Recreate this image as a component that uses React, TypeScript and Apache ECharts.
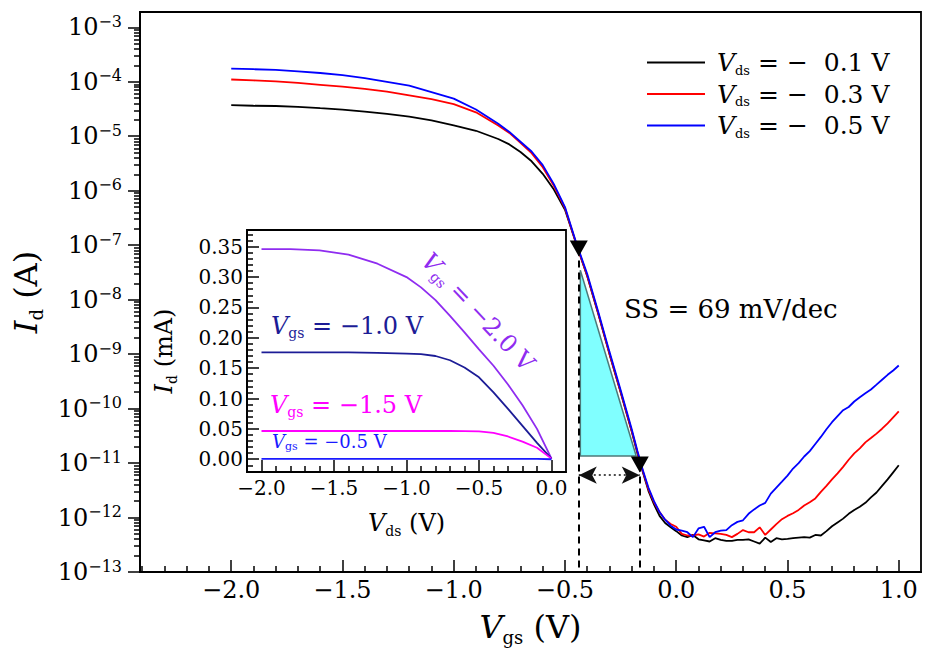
import React, { useEffect, useRef } from "react";
import * as echarts from "echarts";

const SERIF = "DejaVu Serif, Liberation Serif, serif";
const MINUS = "\u2212";

// ---------- main panel: Id-Vgs transfer curves ----------
const vgs = [
  -2.0, -1.9, -1.8, -1.7, -1.6, -1.5, -1.4, -1.3, -1.2, -1.1, -1.0, -0.9, -0.8,
  -0.75, -0.7, -0.65, -0.6, -0.55, -0.5, -0.45, -0.4, -0.35, -0.3, -0.25, -0.2,
  -0.175, -0.15, -0.125, -0.1, -0.075, -0.05, -0.025, 0.0,
  0.025, 0.05, 0.075, 0.1, 0.125, 0.15, 0.175, 0.2, 0.225, 0.25,
  0.275, 0.3, 0.325, 0.35, 0.375, 0.4, 0.425, 0.45, 0.475, 0.5,
  0.525, 0.55, 0.575, 0.6, 0.625, 0.65, 0.675, 0.7, 0.725, 0.75,
  0.775, 0.8, 0.825, 0.85, 0.875, 0.9, 0.925, 0.95, 0.975, 1.0,
];

const idVds01 = [
  3.72e-5, 3.63e-5, 3.59e-5, 3.47e-5, 3.27e-5, 3.09e-5, 2.82e-5, 2.57e-5, 2.29e-5, 1.95e-5, 1.58e-5, 1.26e-5, 8.91e-6,
  7.08e-6, 5.13e-6, 3.47e-6, 2.04e-6, 1.05e-6, 4.47e-7, 1.07e-7, 2.69e-8, 5.37e-9, 1.0e-9, 2.0e-10, 3.8e-11,
  1.55e-11, 6.76e-12, 3.09e-12, 1.74e-12, 1.07e-12, 7.94e-13, 6.61e-13, 5.62e-13,
  4.68e-13, 4.37e-13, 4.79e-13, 3.98e-13, 3.8e-13, 3.63e-13, 4.17e-13, 3.89e-13, 3.72e-13, 3.72e-13,
  3.89e-13, 3.89e-13, 3.98e-13, 3.63e-13, 3.31e-13, 4.27e-13, 3.55e-13, 4.17e-13, 3.98e-13, 4.07e-13,
  4.17e-13, 4.27e-13, 4.37e-13, 4.27e-13, 4.79e-13, 4.68e-13, 5.62e-13, 6.92e-13, 8.13e-13, 9.55e-13,
  1.17e-12, 1.38e-12, 1.58e-12, 1.86e-12, 2.34e-12, 2.88e-12, 3.8e-12, 5.01e-12, 6.76e-12, 9.12e-12,
];

const idVds03 = [
  1.1e-4, 1.06e-4, 1.02e-4, 9.55e-5, 8.81e-5, 8.13e-5, 7.41e-5, 6.61e-5, 5.62e-5, 4.79e-5, 3.89e-5, 2.75e-5, 1.58e-5,
  1.15e-5, 7.59e-6, 4.9e-6, 2.69e-6, 1.23e-6, 4.79e-7, 1.07e-7, 2.75e-8, 5.5e-9, 1.02e-9, 2.04e-10, 3.89e-11,
  1.62e-11, 7.08e-12, 3.31e-12, 1.91e-12, 1.26e-12, 9.12e-13, 7.59e-13, 6.76e-13,
  5.01e-13, 4.68e-13, 4.68e-13, 4.9e-13, 4.47e-13, 5.25e-13, 5.13e-13, 5.01e-13, 4.79e-13, 4.37e-13,
  5.01e-13, 5.89e-13, 5.37e-13, 5.37e-13, 6.61e-13, 4.79e-13, 6.03e-13, 7.59e-13, 9.33e-13, 1.07e-12,
  1.2e-12, 1.38e-12, 1.66e-12, 1.91e-12, 2.24e-12, 2.95e-12, 3.8e-12, 5.01e-12, 6.46e-12, 8.51e-12,
  1.15e-11, 1.51e-11, 1.86e-11, 2.4e-11, 2.88e-11, 3.47e-11, 4.27e-11, 5.37e-11, 6.92e-11, 8.91e-11,
];

const idVds05 = [
  1.74e-4, 1.7e-4, 1.66e-4, 1.55e-4, 1.45e-4, 1.32e-4, 1.17e-4, 1.0e-4, 8.51e-5, 6.46e-5, 4.9e-5, 3.09e-5, 1.7e-5,
  1.2e-5, 7.94e-6, 5.25e-6, 2.95e-6, 1.32e-6, 5.01e-7, 1.12e-7, 2.95e-8, 5.89e-9, 1.1e-9, 2.19e-10, 4.17e-11,
  1.7e-11, 7.41e-12, 3.55e-12, 2.0e-12, 1.26e-12, 9.12e-13, 7.08e-13, 6.03e-13,
  5.75e-13, 5.37e-13, 4.37e-13, 6.31e-13, 6.76e-13, 4.37e-13, 5.37e-13, 5.75e-13, 5.89e-13, 7.24e-13,
  8.32e-13, 8.91e-13, 1.17e-12, 1.41e-12, 1.66e-12, 1.86e-12, 2.75e-12, 3.55e-12, 4.57e-12, 5.89e-12,
  7.94e-12, 1.0e-11, 1.32e-11, 1.66e-11, 2.24e-11, 3.02e-11, 4.17e-11, 5.62e-11, 7.24e-11, 9.33e-11,
  1.07e-10, 1.35e-10, 1.62e-10, 1.91e-10, 2.24e-10, 2.75e-10, 3.39e-10, 4.17e-10, 5.01e-10, 6.17e-10,
];

const seriesNames = ["Vds = -0.1 V", "Vds = -0.3 V", "Vds = -0.5 V"];
const legendVds = ["0.1", "0.3", "0.5"];
const mainColors = ["#000000", "#ff0000", "#0000ff"];
const mainData = [idVds01, idVds03, idVds05];

// subthreshold-swing annotation
const markerVgs = [-0.438, -0.164];
const markerId = [8.7e-8, 9.4e-12];
const ssTriangleVgs = [-0.431, -0.431, -0.18];
const ssTriangleId = [3.47e-8, 1.35e-11, 1.35e-11];
const arrowVgs = [-0.438, -0.164];
const arrowId = 6.0e-12;
const ssLabel = "SS = 69 mV/dec";

// main tick values
const mainXTicks = [-2.0, -1.5, -1.0, -0.5, 0.0, 0.5, 1.0];
const mainYTicks = [1e-13, 1e-12, 1e-11, 1e-10, 1e-9, 1e-8, 1e-7, 1e-6, 1e-5, 1e-4, 1e-3];

// ---------- inset: Id-Vds output curves ----------
const vds = [-2.0, -1.8, -1.6, -1.4, -1.2, -1.0, -0.9, -0.8, -0.7, -0.6, -0.5, -0.4, -0.3, -0.2, -0.1, 0.0];
const idVgsM20 = [0.346, 0.346, 0.344, 0.337, 0.322, 0.3, 0.283, 0.262, 0.236, 0.209, 0.181, 0.154, 0.123, 0.089, 0.05, 0.001];
const idVgsM10 = [0.176, 0.176, 0.176, 0.176, 0.175, 0.174, 0.173, 0.17, 0.163, 0.151, 0.135, 0.11, 0.083, 0.055, 0.027, 0.001];
const idVgsM15 = [0.0465, 0.0465, 0.0465, 0.0465, 0.0465, 0.0465, 0.0465, 0.0465, 0.0465, 0.0463, 0.046, 0.0435, 0.0375, 0.029, 0.019, 0.001];
const idVgsM05 = [0.0007, 0.0007, 0.0007, 0.0007, 0.0007, 0.0007, 0.0007, 0.0007, 0.0007, 0.0007, 0.0007, 0.0007, 0.0007, 0.0007, 0.0006, 0.0];
const insetColors = { m20: "#8f2cf0", m10: "#1c1c96", m15: "#ff00ff", m05: "#1a1aff" };
const insetXTicks = [-2.0, -1.5, -1.0, -0.5, 0.0];
const insetYTicks = [0.0, 0.05, 0.1, 0.15, 0.2, 0.25, 0.3, 0.35];

const fmtNum = (v: number, d: number) => (v < -1e-9 ? MINUS : "") + Math.abs(v).toFixed(d);

const mainXMinor: number[] = [];
for (let k = -24; k <= 10; k++) if (k % 5 !== 0) mainXMinor.push(k / 10);
const mainYMinor: number[] = [];
for (let e = -13; e <= -4; e++) for (let m = 2; m <= 9; m++) mainYMinor.push(m * Math.pow(10, e));
const insetXMinor: number[] = [];
for (let k = -20; k <= 0; k++) if (k % 5 !== 0) insetXMinor.push(k / 10);
const insetYMinor: number[] = [];
for (let k = -1; k <= 37; k++) if (k % 5 !== 0) insetYMinor.push(k / 100);

// rich-text style for ECharts components (uses "color")
const rs = (size: number, extra: any = {}) => ({ fontFamily: SERIF, fontSize: size, color: "#000", ...extra });
// rich-text style for graphic elements (uses "fill")
const gs = (size: number, fill: string, extra: any = {}) => ({ fontFamily: SERIF, fontSize: size, fill, ...extra });

export default function App() {
  const ref = useRef<HTMLDivElement>(null);
  useEffect(() => {
    const chart = echarts.init(ref.current!, null, { renderer: "svg" });
    const black = "#000";
    const tickLine = { color: black, width: 1.5 };
    const axisLine = { show: true, onZero: false, lineStyle: { color: black, width: 1.8 } };

    const titleRich = (size: number, sub: number) => ({
      v: rs(size, { fontStyle: "italic", lineHeight: size + 6 }),
      s: rs(sub, { lineHeight: sub + 1, verticalAlign: "bottom" }),
      t: rs(size, { lineHeight: size + 6 }),
    });
    const legendRich = {
      p: { width: 7 },
      v: rs(25, { fontStyle: "italic", lineHeight: 28 }),
      s: rs(13, { lineHeight: 14, verticalAlign: "bottom" }),
      t: rs(25, { lineHeight: 28 }),
    };
    const labRich = (size: number, sub: number, color: string) => ({
      v: gs(size, color, { fontStyle: "italic", lineHeight: size + 4 }),
      s: gs(sub, color, { lineHeight: sub + 1, verticalAlign: "bottom" }),
      t: gs(size, color, { lineHeight: size + 4 }),
    });

    const option: any = {
      animation: false,
      backgroundColor: "#fff",
      textStyle: { fontFamily: SERIF },
      grid: [
        { left: 140, top: 12, width: 781, height: 560, show: true, borderColor: black, borderWidth: 1.8, backgroundColor: "transparent" },
        { left: 247, top: 230, width: 319, height: 242, show: true, borderColor: black, borderWidth: 1.8, backgroundColor: "#fff" },
      ],
      legend: {
        orient: "vertical",
        left: 642,
        top: 45,
        itemWidth: 58,
        itemHeight: 2,
        itemGap: 5,
        icon: "rect",
        selectedMode: false,
        data: seriesNames,
        formatter: (name: string) => {
          const i = seriesNames.indexOf(name);
          return `{p| }{v|V}{s|ds}{t| = ${MINUS}  ${legendVds[i]} V}`;
        },
        textStyle: { fontFamily: SERIF, fontSize: 25, rich: legendRich },
      },
      xAxis: [
        {
          gridIndex: 0, type: "value", position: "bottom", min: -2.41, max: 1.1,
          axisLine,
          axisTick: { show: true, inside: true, length: 12, lineStyle: tickLine, customValues: mainXTicks },
          axisLabel: { customValues: mainXTicks, formatter: (v: number) => fmtNum(v, 1), fontSize: 24, fontFamily: SERIF, color: black, margin: 6 },
          splitLine: { show: false },
          name: "{v|V}{s|gs}{t| (V)}", nameLocation: "middle", nameGap: 36,
          nameTextStyle: { rich: titleRich(32, 18) },
        },
        {
          gridIndex: 0, type: "value", position: "bottom", min: -2.41, max: 1.1,
          axisLine: { show: false, onZero: false },
          axisTick: { show: true, inside: true, length: 6, lineStyle: tickLine, customValues: mainXMinor },
          axisLabel: { show: false },
          splitLine: { show: false },
        },
        {
          gridIndex: 1, type: "value", position: "bottom", min: -2.1, max: 0.1,
          axisLine,
          axisTick: { show: true, inside: true, length: 12, lineStyle: tickLine, customValues: insetXTicks },
          axisLabel: { customValues: insetXTicks, formatter: (v: number) => fmtNum(v, 1), fontSize: 20, fontFamily: SERIF, color: black, margin: 6 },
          splitLine: { show: false },
          name: "{v|V}{s|ds}{t| (V)}", nameLocation: "middle", nameGap: 36,
          nameTextStyle: { rich: titleRich(24, 14) },
        },
        {
          gridIndex: 1, type: "value", position: "bottom", min: -2.1, max: 0.1,
          axisLine: { show: false, onZero: false },
          axisTick: { show: true, inside: true, length: 6, lineStyle: tickLine, customValues: insetXMinor },
          axisLabel: { show: false },
          splitLine: { show: false },
        },
      ],
      yAxis: [
        {
          gridIndex: 0, type: "log", logBase: 10, position: "left", min: 1e-13, max: 1.91e-3,
          axisLine,
          axisTick: { show: true, inside: false, length: 12, lineStyle: tickLine, customValues: mainYTicks },
          axisLabel: {
            customValues: mainYTicks, margin: 18,
            formatter: (v: number) => `{b|10}{e|${MINUS}${Math.abs(Math.round(Math.log10(v)))}}`,
            rich: { b: rs(24, { lineHeight: 28 }), e: rs(16, { lineHeight: 12, verticalAlign: "top" }) },
          },
          splitLine: { show: false },
          name: "{v|I}{s|d}{t| (A)}", nameLocation: "middle", nameGap: 95, nameRotate: 90,
          nameTextStyle: { rich: titleRich(32, 18) },
        },
        {
          gridIndex: 0, type: "log", logBase: 10, position: "left", min: 1e-13, max: 1.91e-3,
          axisLine: { show: false, onZero: false },
          axisTick: { show: true, inside: false, length: 6, lineStyle: tickLine, customValues: mainYMinor },
          axisLabel: { show: false },
          splitLine: { show: false },
        },
        {
          gridIndex: 1, type: "value", position: "left", min: -0.021, max: 0.3775,
          axisLine,
          axisTick: { show: true, inside: true, length: 12, lineStyle: tickLine, customValues: insetYTicks },
          axisLabel: { customValues: insetYTicks, formatter: (v: number) => fmtNum(v, 2), fontSize: 20, fontFamily: SERIF, color: black, margin: 4 },
          splitLine: { show: false },
          name: "{v|I}{s|d}{t| (mA)}", nameLocation: "middle", nameGap: 68, nameRotate: 90,
          nameTextStyle: { rich: titleRich(24, 14) },
        },
        {
          gridIndex: 1, type: "value", position: "left", min: -0.021, max: 0.3775,
          axisLine: { show: false, onZero: false },
          axisTick: { show: true, inside: true, length: 6, lineStyle: tickLine, customValues: insetYMinor },
          axisLabel: { show: false },
          splitLine: { show: false },
        },
      ],
      series: [
        {
          type: "custom", name: "ssTriangle", xAxisIndex: 0, yAxisIndex: 0, silent: true, z: 1,
          data: [[ssTriangleVgs[0], ssTriangleId[0]]],
          renderItem: (_p: any, api: any) => ({
            type: "polygon",
            shape: { points: ssTriangleVgs.map((x, i) => api.coord([x, ssTriangleId[i]])) },
            style: { fill: "#80ffff", stroke: "#4d7a7a", lineWidth: 1.5 },
          }),
        },
        ...mainData.map((arr, k) => ({
          type: "line", name: seriesNames[k], xAxisIndex: 0, yAxisIndex: 0, z: 3 + k,
          data: vgs.map((x, i) => [x, arr[i]]),
          showSymbol: false, symbol: "none", silent: true,
          lineStyle: { color: mainColors[k], width: 1.8 },
          itemStyle: { color: mainColors[k] },
        })),
        {
          type: "scatter", name: "markers", xAxisIndex: 0, yAxisIndex: 0, z: 8, silent: true,
          data: markerVgs.map((x, i) => [x, markerId[i]]),
          symbol: "triangle", symbolRotate: 180, symbolSize: [18, 16],
          itemStyle: { color: black, opacity: 1 },
          markLine: {
            silent: true, symbol: "none", label: { show: false },
            lineStyle: { color: black, width: 2, type: [7, 5], opacity: 1 },
            data: markerVgs.map((x, i) => [{ coord: [x, markerId[i]] }, { coord: [x, 1e-13] }]),
          },
        },
        {
          type: "line", name: "arrow", xAxisIndex: 0, yAxisIndex: 0, z: 8, silent: true, data: [],
          markLine: {
            silent: true, symbol: ["arrow", "arrow"], symbolSize: [13, 18], label: { show: false },
            lineStyle: { color: "#111", width: 1.5, type: [2, 3], opacity: 1 },
            data: [[{ coord: [arrowVgs[0], arrowId] }, { coord: [arrowVgs[1], arrowId] }]],
          },
        },
        { type: "line", name: "Vgs -2.0", xAxisIndex: 2, yAxisIndex: 2, z: 3, showSymbol: false, symbol: "none", silent: true,
          data: vds.map((x, i) => [x, idVgsM20[i]]), lineStyle: { color: insetColors.m20, width: 1.8 } },
        { type: "line", name: "Vgs -1.0", xAxisIndex: 2, yAxisIndex: 2, z: 3, showSymbol: false, symbol: "none", silent: true,
          data: vds.map((x, i) => [x, idVgsM10[i]]), lineStyle: { color: insetColors.m10, width: 1.8 } },
        { type: "line", name: "Vgs -1.5", xAxisIndex: 2, yAxisIndex: 2, z: 3, showSymbol: false, symbol: "none", silent: true,
          data: vds.map((x, i) => [x, idVgsM15[i]]), lineStyle: { color: insetColors.m15, width: 1.8 } },
        { type: "line", name: "Vgs -0.5", xAxisIndex: 2, yAxisIndex: 2, z: 3, showSymbol: false, symbol: "none", silent: true,
          data: vds.map((x, i) => [x, idVgsM05[i]]), lineStyle: { color: insetColors.m05, width: 1.8 } },
      ],
      graphic: [
        {
          type: "text", x: 624, y: 309, z: 20,
          style: { text: ssLabel, fontFamily: SERIF, fontSize: 26, fill: black, align: "left", verticalAlign: "middle" },
        },
        {
          type: "text", x: 271, y: 326, z: 20,
          style: { text: `{v|V}{s|gs}{t| = ${MINUS}1.0 V}`, fontFamily: SERIF, fontSize: 24, fill: insetColors.m10, rich: labRich(24, 14, insetColors.m10), align: "left", verticalAlign: "middle" },
        },
        {
          type: "text", x: 270, y: 405, z: 20,
          style: { text: `{v|V}{s|gs}{t| = ${MINUS}1.5 V}`, fontFamily: SERIF, fontSize: 24, fill: insetColors.m15, rich: labRich(24, 14, insetColors.m15), align: "left", verticalAlign: "middle" },
        },
        {
          type: "text", x: 272, y: 441, z: 20,
          style: { text: `{v|V}{s|gs}{t| = ${MINUS}0.5 V}`, fontFamily: SERIF, fontSize: 18, fill: insetColors.m05, rich: labRich(18, 11, insetColors.m05), align: "left", verticalAlign: "middle" },
        },
        {
          type: "text", x: 478, y: 312, rotation: -0.815, z: 20,
          style: { text: `{v|V}{s|gs}{t| = ${MINUS}2.0 V}`, fontFamily: SERIF, fontSize: 24, fill: insetColors.m20, rich: labRich(24, 14, insetColors.m20), align: "center", verticalAlign: "middle" },
        },
      ],
    };
    chart.setOption(option);
    return () => chart.dispose();
  }, []);
  return <div ref={ref} style={{ position: "absolute", left: 0, top: 0, width: 930, height: 655 }} />;
}
